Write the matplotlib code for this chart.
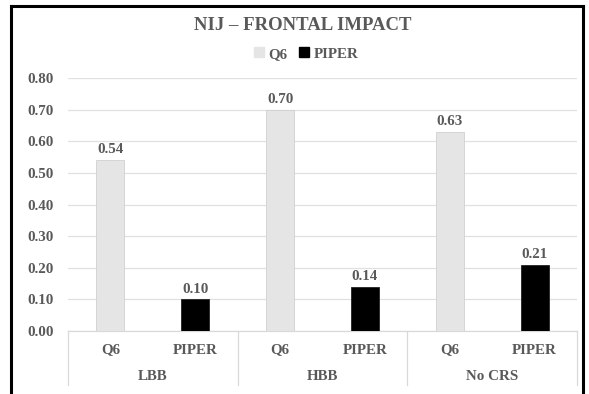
import matplotlib.pyplot as plt
from matplotlib.lines import Line2D
from matplotlib.patches import Patch
from matplotlib.transforms import blended_transform_factory

# Data
groups = ["LBB", "HBB", "No CRS"]
subcats = ["Q6", "PIPER", "Q6", "PIPER", "Q6", "PIPER"]
values = [0.54, 0.10, 0.70, 0.14, 0.63, 0.21]
series_names = ["Q6", "PIPER"]
series_colors = ["#e5e5e5", "#000000"]
yticks = [0.0, 0.1, 0.2, 0.3, 0.4, 0.5, 0.6, 0.7, 0.8]

plt.rcParams['font.family'] = ['Liberation Serif', 'DejaVu Serif']
plt.rcParams['font.weight'] = 'bold'
txt = "#595959"
fs = 10.8

W, H = 589, 394
fig = plt.figure(figsize=(W / 100, H / 100), dpi=100)

# plot area in pixels
left, right, top, bottom = 68, 577, 78, 331
ax = fig.add_axes([left / W, 1 - bottom / H, (right - left) / W, (bottom - top) / H])

x = list(range(len(values)))
colors = [series_colors[series_names.index(s)] for s in subcats]
ax.bar(x, values, width=0.33, color=colors,
       edgecolor=["#d0d0d0" if c != "#000000" else "#222222" for c in colors],
       linewidth=0.6, zorder=3)

for xi, v in zip(x, values):
    ax.text(xi, v + 0.012, f"{v:.2f}", ha="center", va="bottom", fontsize=fs, color=txt, fontweight="bold")

ax.set_xlim(-0.5, len(values) - 0.5)
ax.set_ylim(0, 0.8)
ax.set_yticks(yticks)
ax.set_yticklabels([f"{t:.2f}" for t in yticks], fontsize=fs, color=txt)
ax.tick_params(axis="y", length=0, pad=10)
ax.grid(axis="y", color="#e0e0e0", linewidth=0.9, zorder=0)
ax.set_axisbelow(True)
for s in ax.spines.values():
    s.set_visible(False)

ax.set_xticks(x)
ax.set_xticklabels(subcats, fontsize=fs, color=txt)
ax.tick_params(axis="x", length=0, pad=9)

trans = blended_transform_factory(ax.transData, ax.transAxes)
ph = bottom - top
for gi, g in enumerate(groups):
    ax.text(gi * 2 + 0.5, -45 / ph, g, transform=trans, ha="center", va="center",
            fontsize=fs, color=txt)
for b in [-0.5, 1.5, 3.5, 5.5]:
    ax.plot([b, b], [0, -54 / ph], transform=trans, color="#d9d9d9", lw=0.9, clip_on=False)
ax.plot([-0.5, 5.5], [0, 0], transform=trans, color="#d9d9d9", lw=0.9, clip_on=False)

fig.text(303 / W, 1 - 26 / H, "NIJ – FRONTAL IMPACT", ha="center", va="center",
         fontsize=13.5, color=txt, fontweight="bold")
handles = [Patch(facecolor=c, edgecolor=c) for c in series_colors]
leg = fig.legend(handles, series_names, loc="center", bbox_to_anchor=(306 / W, 1 - 54 / H),
                 ncol=2, frameon=False, fontsize=fs, handlelength=0.65, handleheight=0.65,
                 handletextpad=0.3, columnspacing=0.8)
for t in leg.get_texts():
    t.set_color(txt)

# chart border (left, top, right)
bl, bt, br = 10.5 / W, 1 - 5.5 / H, 583 / W
fig.add_artist(Line2D([bl, bl], [0, bt], transform=fig.transFigure, color="black", lw=2.2))
fig.add_artist(Line2D([bl, br], [bt, bt], transform=fig.transFigure, color="black", lw=2.2))
fig.add_artist(Line2D([br, br], [0, bt], transform=fig.transFigure, color="black", lw=2.2))

fig.savefig("out.png", dpi=100)
